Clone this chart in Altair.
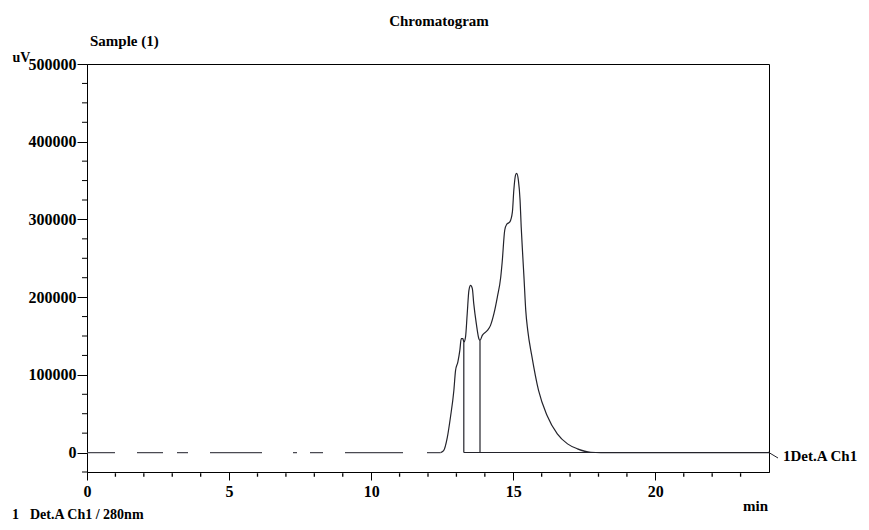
import altair as alt
import pandas as pd

# ---- data ----
times = [0, 12.44, 12.55, 12.68, 12.79, 12.91, 12.97, 13.05, 13.12, 13.17, 13.23,
         13.26, 13.32, 13.38, 13.44, 13.50, 13.56, 13.61, 13.70, 13.79, 13.83,
         13.91, 14.09, 14.20, 14.32, 14.44, 14.56, 14.61, 14.70, 14.77, 14.88,
         14.97, 15.02, 15.08, 15.12, 15.18, 15.24, 15.28, 15.33, 15.38, 15.44,
         15.51, 15.65, 15.89, 16.19, 16.55, 16.91, 17.26, 17.73, 18.08, 24.0]
signal = [0, 0, 2600, 19700, 45500, 79900, 105700, 116400, 131400, 146500, 146500,
          142100, 148600, 178700, 208800, 215200, 211000, 191600, 165900, 146500, 144300,
          150800, 157200, 163700, 178700, 200100, 225900, 244900, 286100, 293800, 296800,
          309700, 337600, 357000, 359200, 350500, 324700, 290300, 256100, 223800, 183000,
          157200, 125000, 79900, 47700, 24100, 11200, 4800, 400, 0, 0]
drop_times = [13.26, 13.83]
drop_heights = [142100, 144300]
baseline_start = [13.26]
baseline_end = [24.0]
x_major = [0, 5, 10, 15, 20]
x_minor = [1, 2, 3, 4, 6, 7, 8, 9, 11, 12, 13, 14, 16, 17, 18, 19, 21, 22, 23]
y_major = [0, 100000, 200000, 300000, 400000, 500000]
y_minor = [-25000, 25000, 50000, 75000, 125000, 150000, 175000, 225000, 250000,
           275000, 325000, 350000, 375000, 425000, 450000, 475000]

FONT = "Liberation Serif"
INK = "#23232b"

df = pd.DataFrame({"t": times, "uV": signal})
drops = pd.DataFrame({"t": drop_times, "h": drop_heights})
base = pd.DataFrame({"t0": baseline_start, "t1": baseline_end, "b": [0]})
xmin_df = pd.DataFrame({"tm": [float(v) for v in x_minor]})
ymin_df = pd.DataFrame({"vm": [float(v) for v in y_minor]})
dummy = pd.DataFrame({"k": [0]})

xs = alt.Scale(domain=[0, 24], nice=False, zero=False)
ys = alt.Scale(domain=[-25000, 500000], nice=False, zero=False)

common_axis = dict(grid=False, domainColor="black", tickColor="black",
                   labelColor="black", labelFont=FONT, labelFontWeight="bold",
                   labelFlush=False, labelOverlap=False)

x_major_axis = alt.Axis(values=x_major, tickSize=8, labelFontSize=16, labelPadding=3,
                        orient="bottom", format="d", title="min", titleX=668, titleY=38,
                        titleAlign="center", titleBaseline="alphabetic", titleFont=FONT,
                        titleFontSize=15, titleFontWeight="bold", titleColor="black",
                        **common_axis)
y_major_axis = alt.Axis(values=y_major, tickSize=10, labelFontSize=16, labelPadding=1,
                        orient="left", format="d", title="uV", titleAngle=0, titleX=-75,
                        titleY=-3, titleAlign="left", titleBaseline="alphabetic",
                        titleFont=FONT, titleFontSize=14, titleFontWeight="bold",
                        titleColor="black", **common_axis)

main_line = alt.Chart(df).transform_filter("datum.t >= 12.44").mark_line(
    color=INK, strokeWidth=1.2, interpolate="monotone"
).encode(
    x=alt.X("t:Q", scale=xs, axis=x_major_axis),
    y=alt.Y("uV:Q", scale=ys, axis=y_major_axis),
)

pre_line = alt.Chart(df).transform_filter("datum.t <= 12.44").mark_line(
    color="#4a4a52", strokeWidth=1.2,
    strokeDash=[28, 22, 26, 14, 11, 22, 52, 31, 4, 13, 13, 22, 58, 24]
).encode(
    x=alt.X("t:Q", scale=xs),
    y=alt.Y("uV:Q", scale=ys),
)

# minor x ticks below the frame, drawn as short vertical stroke symbols
x_minor_ticks = alt.Chart(xmin_df).mark_point(
    shape="M0,-1L0,1", filled=False, stroke="black", strokeWidth=1.3,
    size=12, opacity=1, clip=False
).encode(
    x=alt.X("tm:Q", scale=xs),
    y=alt.value(411),
)
y_minor_ticks = alt.Chart(ymin_df).mark_rule(color="black", strokeWidth=1, clip=False).encode(
    y=alt.Y("vm:Q", scale=ys), x=alt.value(-5), x2=alt.value(0)
)

drop_rules = alt.Chart(drops).mark_rule(color=INK, strokeWidth=1.2).encode(
    x=alt.X("t:Q", scale=xs),
    y=alt.Y("h:Q", scale=ys),
    y2=alt.datum(0),
)

base_rule = alt.Chart(base).mark_rule(color=INK, strokeWidth=1.1).encode(
    x=alt.X("t0:Q", scale=xs),
    x2="t1:Q",
    y=alt.Y("b:Q", scale=ys),
)


def label(text, x, y, size=15, align="left"):
    return alt.Chart(dummy).mark_text(
        text=text, font=FONT, fontSize=size, fontWeight="bold", align=align,
        baseline="alphabetic", color="black"
    ).encode(x=alt.value(x), y=alt.value(y))


leader = alt.Chart(dummy).mark_rule(color=INK, strokeWidth=1).encode(
    x=alt.value(681), y=alt.value(388), x2=alt.value(691), y2=alt.value(394)
)

chart = alt.layer(
    main_line, pre_line, drop_rules, base_rule, x_minor_ticks, y_minor_ticks, leader,
    label("Chromatogram", 352, -38, 15, "center"),
    label("Sample (1)", 3, -18, 15),
    label("1Det.A Ch1", 696, 397, 15),
    label("1", -75, 455, 14),
    label("Det.A Ch1 / 280nm", -57, 455, 14),
).properties(
    width=682, height=408,
    autosize=alt.AutoSizeParams(type="none"),
    padding={"left": 79, "top": 56, "right": 92, "bottom": 50},
    background="white",
).configure_view(stroke="black", strokeWidth=1)

chart.save("out.html", embed_options={"renderer": "svg", "actions": False})
